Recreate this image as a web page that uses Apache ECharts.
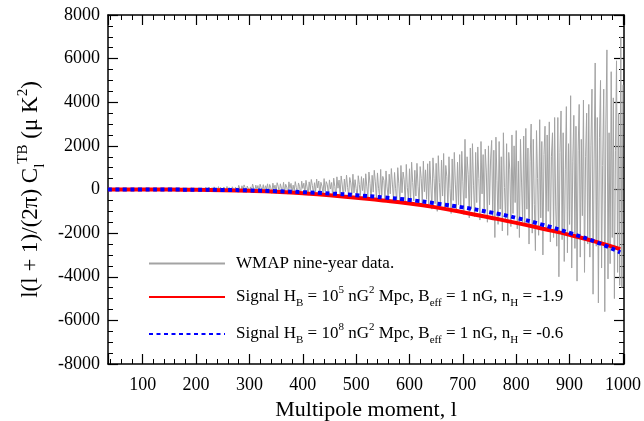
<!DOCTYPE html>
<html>
<head>
<meta charset="utf-8">
<script src="https://cdn.jsdelivr.net/npm/echarts@6/dist/echarts.min.js"></script>
<style>
html,body{margin:0;padding:0;background:#fff;}
#chart{width:644px;height:421px;}
</style>
</head>
<body>
<div id="chart"></div>
<script>
// WMAP nine-year TB data: multipoles start at 36, step 2
const wmapStart = 36;
const wmapStep = 2;
const wmapValues = [
  4, -9, 13, -2, 8, -14, 6, 11, -7, 15, -11, 3, 9, -13, 12, -4, 7, -10, 16, -6, 2, -12, 10, 5, -8, 14, -15, 9, -3, 11,
  -18, 20, -7, 26, -14, 9, 22, -21, 5, 17, -25, 12, -3, 24, -16, 28, -10, 6, 19, -23, 14, -8, 27, -19, 3, 21, -12, 25, -6, 15,
  45, -20, 30, 60, -35, 12, 52, -28, 40, -10, 65, 5, -42, 38, 58, -15, 25, -38, 70, 18, -30, 48, -5, 62, -45, 35, 10, 55, -25, 42,
  -50, 95, 20, -70, 110, 45, -30, 85, -85, 120, 10, 70, -60, 130, -20, 100, 55, -90, 115, 30, -45, 140, -75, 90, 15, -55, 125, 60, -80, 105,
  150, -60, 190, 40, -110, 170, -20, 210, 80, -130, 160, 230, -90, 120, -40, 250, 60, -120, 200, 10, 180, -150, 240, 90, -70, 220, -100, 170, 30, 260,
  -140, 230, 80, -180, 290, 20, 200, -120, 310, 150, -200, 260, 60, -90, 330, -160, 240, 110, -210, 350, 40, 280, -130, 200, -60, 360, 90, -190, 300, 130,
  -230, 380, 50, 290, -180, 420, 120, -260, 350, -40, 460, 180, -200, 310, -110, 480, 70, 390, -240, 330, 150, -170, 500, -80, 360, 230, -270, 440, 20, 320,
  -300, 520, 140, -330, 580, 60, 430, -260, 620, 210, -380, 480, -90, 660, 100, -310, 550, 300, -240, 700, -150, 450, 40, -400, 630, 230, -280, 590, -50, 510,
  -420, 720, 150, -380, 800, 280, -500, 650, -120, 880, 350, -450, 760, 60, -330, 920, -260, 600, 420, -540, 850, 120, -400, 700, -200, 960, 250, -480, 780, 30,
  -560, 1000, 260, -620, 1100, -150, 800, 450, -700, 1150, 80, -480, 950, -600, 1250, 320, -520, 880, -300, 1200, 150, -680, 1050, 500, -640, 1300, -100, 900, -450, 1180,
  -700, 1300, 200, -900, 1450, 500, -650, 1200, -1000, 1550, 320, -780, 1350, -300, 1650, -850, 1100, 600, -950, 1500, 50, -1100, 1400, -500, 1700, 250, -900, 1250, -700, 1600,
  -800, 1750, 350, -1150, 2300, -400, 1500, 700, -1300, 1900, -900, 2100, 200, -1250, 1700, -600, 1950, 500, -1400, 2200, -200, 1600, -1100, 1850, 800, -1500, 2000, -700, 1400, 2250,
  -1300, 1800, -2200, 2400, 400, -1600, 2200, -900, 1500, -1900, 2600, 100, -1400, 2100, -2100, 1700, 900, -1700, 2500, -1100, 2000, -600, 2700, -1800, 1300, -2200, 2300, 300, -1500, 2450,
  -1600, 2800, -900, 1900, -2500, 1300, 3000, -2000, 2300, -700, -2800, 2700, 500, -2100, 3200, -1300, 2200, -3000, 1600, 2900, -1800, 2500, -1000, 3100, -2400, 1500, 2600, -2200, 3300, -800,
  -2600, 3300, -4000, 1700, 3600, -2300, 2600, -3300, 900, 3800, -2900, 2100, -1600, 4300, -3600, 1300, 3400, -2700, 2900, -4200, 1800, 3900, -3100, 2300, -1200, 4100, -3800, 1500, 3500, -2500,
  3900, -3100, 2000, 4600, -4800, 1400, 5800, -2600, 3300, -5200, 2400, 5000, -3600, 1100, 4600, -5600, 3000, 6400, -4100, 2600, -3400, 5400, -2200, 4200, -5000, 1800, 5900, -3800, 3500, -4400,
  7000, -4500, 4800
];

// Model curves
const modelL  = [35, 100, 150, 200, 250, 300, 350, 400, 450, 500, 550, 600, 650, 700, 750, 800, 850, 900, 950, 995];
const signalA = [0, 0, -5, -15, -30, -60, -105, -170, -260, -380, -500, -640, -820, -1040, -1280, -1530, -1800, -2080, -2400, -2730];
const signalB = [0, 0, -3, -10, -20, -40, -75, -120, -180, -260, -360, -480, -640, -820, -1040, -1300, -1620, -1990, -2410, -2880];

const seriesNames = ['WMAP nine-year data.', 'Signal A', 'Signal B'];
const legendTexts = {
  'WMAP nine-year data.': '{n|WMAP nine-year data.}',
  'Signal A': '{n|Signal H}{sub|B}{n| = 10}{sup|5}{n| nG}{sup|2}{n| Mpc, B}{sub|eff}{n| = 1 nG, n}{sub|H}{n| = -1.9}',
  'Signal B': '{n|Signal H}{sub|B}{n| = 10}{sup|8}{n| nG}{sup|2}{n| Mpc, B}{sub|eff}{n| = 1 nG, n}{sub|H}{n| = -0.6}'
};

const wmapData = wmapValues.map((v, i) => [wmapStart + i * wmapStep, v]);
const dataA = modelL.map((l, i) => [l, signalA[i]]);
const dataB = modelL.map((l, i) => [l, signalB[i]]);

const FONT = 'Liberation Serif';
const XMIN = 35, XMAX = 1002;

function xAx(pos, labels) {
  return {
    type: 'value', position: pos, min: XMIN, max: XMAX, splitNumber: 10,
    axisLine: { show: true, onZero: false, lineStyle: { color: '#000', width: 1.5 } },
    axisTick: { show: true, inside: true, length: 10, lineStyle: { color: '#000', width: 1.2 } },
    minorTick: { show: true, splitNumber: 5, length: 5, lineStyle: { color: '#000', width: 1 } },
    splitLine: { show: false },
    axisLabel: { show: labels, showMinLabel: false, showMaxLabel: false, margin: 12,
      color: '#000', fontFamily: FONT, fontSize: 18, formatter: (v) => String(v) },
    name: labels ? 'Multipole moment, l' : '',
    nameLocation: 'middle', nameGap: 33,
    nameTextStyle: { color: '#000', fontFamily: FONT, fontSize: 22 }
  };
}
function yAx(pos, labels) {
  return {
    type: 'value', position: pos, min: -8000, max: 8000, interval: 2000,
    axisLine: { show: true, onZero: false, lineStyle: { color: '#000', width: 1.5 } },
    axisTick: { show: true, inside: true, length: 10, lineStyle: { color: '#000', width: 1.2 } },
    minorTick: { show: true, splitNumber: 4, length: 5, lineStyle: { color: '#000', width: 1 } },
    splitLine: { show: false },
    axisLabel: { show: labels, margin: 8, color: '#000', fontFamily: FONT, fontSize: 18, formatter: (v) => String(v) },
    name: labels ? '{n|l(l + 1)/(2π) C}{sub|l}{sup|TB}{n| (μ K}{sup|2}{n|)}' : '',
    nameLocation: 'middle', nameRotate: 90, nameGap: 56,
    nameTextStyle: {
      color: '#000', fontFamily: FONT, fontSize: 23,
      rich: {
        n: { fontFamily: FONT, fontSize: 23, color: '#000', lineHeight: 32 },
        sub: { fontFamily: FONT, fontSize: 15, color: '#000', verticalAlign: 'bottom', lineHeight: 15 },
        sup: { fontFamily: FONT, fontSize: 15, color: '#000', verticalAlign: 'top', lineHeight: 15 }
      }
    }
  };
}

const chart = echarts.init(document.getElementById('chart'), null, { renderer: 'canvas' });
chart.setOption({
  backgroundColor: '#fff',
  animation: false,
  grid: { left: 108, right: 20, top: 15, bottom: 57, containLabel: false, outerBoundsMode: 'none' },
  xAxis: [xAx('bottom', true), xAx('top', false)],
  yAxis: [yAx('left', true), yAx('right', false)],
  legend: {
    show: true, orient: 'vertical', left: 143, top: 250,
    itemWidth: 76, itemHeight: 14, itemGap: 13, selectedMode: false,
    itemStyle: { opacity: 0 },
    data: seriesNames,
    formatter: (name) => legendTexts[name],
    textStyle: {
      color: '#000', fontFamily: FONT, fontSize: 17, padding: [0, 0, 0, 6],
      rich: {
        n: { fontFamily: FONT, fontSize: 17, color: '#000', lineHeight: 24 },
        sub: { fontFamily: FONT, fontSize: 11, color: '#000', verticalAlign: 'bottom', lineHeight: 11 },
        sup: { fontFamily: FONT, fontSize: 11, color: '#000', verticalAlign: 'top', lineHeight: 11 }
      }
    }
  },
  series: [
    {
      name: seriesNames[0], type: 'line', data: wmapData, showSymbol: false, symbol: 'none',
      xAxisIndex: 0, yAxisIndex: 0,
      lineStyle: { color: '#a3a3a3', width: 1 }, itemStyle: { color: '#a3a3a3' }, z: 2
    },
    {
      name: seriesNames[1], type: 'line', data: dataA, showSymbol: false, symbol: 'none', smooth: true,
      xAxisIndex: 0, yAxisIndex: 0,
      lineStyle: { color: '#ff0000', width: 4 }, itemStyle: { color: '#ff0000' }, z: 3
    },
    {
      name: seriesNames[2], type: 'line', data: dataB, showSymbol: false, symbol: 'none', smooth: true,
      xAxisIndex: 0, yAxisIndex: 0,
      lineStyle: { color: '#0000ff', width: 4, type: [4, 3.5], cap: 'butt' }, itemStyle: { color: '#0000ff' }, z: 4
    }
  ]
});
</script>
</body>
</html>
